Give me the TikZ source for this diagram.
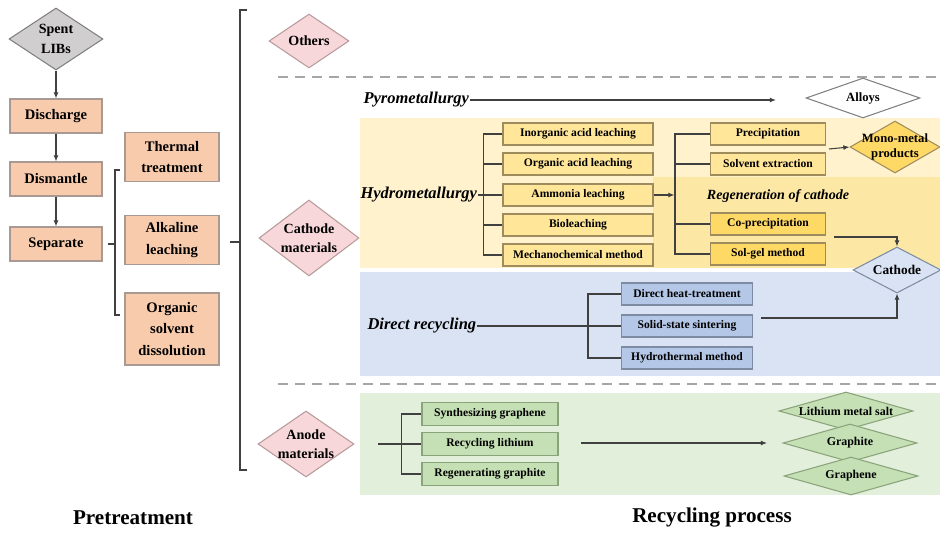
\documentclass[tikz,border=0pt]{standalone}
\usepackage{fontspec}
\setmainfont{Liberation Serif}
\usetikzlibrary{positioning, shapes.geometric, arrows.meta}

\definecolor{peach}{HTML}{F8CBAD}
\definecolor{peachline}{HTML}{A89A92}
\definecolor{libgray}{HTML}{D0CECE}
\definecolor{pink}{HTML}{F7D7DA}
\definecolor{pinkline}{HTML}{B89A9C}
\definecolor{ylight}{HTML}{FFF2CC}
\definecolor{ydark}{HTML}{FCE7A4}
\definecolor{ybox}{HTML}{FFE699}
\definecolor{ydeep}{HTML}{FFD966}
\definecolor{yline}{HTML}{9E8C5E}
\definecolor{blight}{HTML}{DAE3F3}
\definecolor{bbox}{HTML}{B4C7E7}
\definecolor{bline}{HTML}{7D8CA3}
\definecolor{glight}{HTML}{E2EFDA}
\definecolor{gbox}{HTML}{C5E0B4}
\definecolor{gline}{HTML}{8BA37A}
\definecolor{sepgray}{HTML}{A6A6A6}
\definecolor{wire}{HTML}{404040}

\tikzset{
  arr/.style={-{Latex[length=3.5pt,width=2.8pt]}},
  pbox/.style={draw=peachline, fill=peach, minimum width=1.84cm, minimum height=0.68cm, align=center, inner sep=1pt, font=\fontsize{8.3}{12.5}\selectfont\bfseries},
  sbox/.style={pbox, minimum width=1.88cm, minimum height=0.98cm},
  hbox/.style={draw=yline, fill=ybox, minimum width=3cm, minimum height=0.44cm, inner sep=1pt, font=\fontsize{6.6}{8}\selectfont\bfseries},
  rbox/.style={hbox, minimum width=2.3cm},
  dbox/.style={hbox, draw=bline, fill=bbox, minimum width=2.62cm},
  abox/.style={hbox, draw=gline, fill=gbox, minimum width=2.72cm, minimum height=0.46cm},
  dia/.style={diamond, draw=pinkline, fill=pink, inner sep=0pt},
  dlab/.style={align=center, inner sep=0pt, font=\fontsize{8}{11}\selectfont\bfseries},
  slab/.style={dlab, font=\fontsize{7.2}{8.5}\selectfont\bfseries},
  prod/.style={diamond, draw=gline, fill=gbox, inner sep=0pt, minimum width=2.68cm, minimum height=0.76cm},
  route/.style={font=\fontsize{9.4}{11}\selectfont\bfseries\itshape, inner sep=0pt},
  sep/.style={draw=sepgray, line width=1.6pt, dash pattern=on 5.7pt off 4pt},
  head/.style={font=\fontsize{12}{14}\selectfont\bfseries}
}

\begin{document}
\begin{tikzpicture}[x=0.02cm, y=-0.02cm, line width=0.6pt, draw=wire]
\useasboundingbox (0,0) rectangle (940,533);

% coloured bands
\fill[ylight] (360,118) rectangle (940,268);
\fill[ydark] (653,177) rectangle (940,268);
\fill[blight] (360,272) rectangle (940,376);
\fill[glight] (360,393) rectangle (940,495);
\draw[sep] (278,77) -- (940,77);
\draw[sep] (278,384) -- (940,384);

% pretreatment
\node[dia, draw=gray, fill=libgray, minimum width=1.88cm, minimum height=1.24cm,
  label={[dlab]center:Spent\\LIBs}] at (56,39) (spent) {};
\node[pbox] at (56,116) (discharge) {Discharge};
\node[pbox] at (56,179) (dismantle) {Dismantle};
\node[pbox] at (56,244) (separate) {Separate};
\node[sbox] at (172,157) (thermal) {Thermal\\treatment};
\node[sbox] at (172,240) (alkaline) {Alkaline\\leaching};
\node[sbox, minimum height=1.44cm] at (172,329) (organic) {Organic\\solvent\\dissolution};

\draw[arr] (spent) -- (discharge);
\draw[arr] (discharge) -- (dismantle);
\draw[arr] (dismantle) -- (separate);

\draw (120,170) -- (115,170) -- (115,315) -- (120,315);
\draw (108,244) -- (115,244);
\draw (247,10) -- (240,10) -- (240,470) -- (247,470);
\draw (230,242) -- (240,242);

% materials
\node[dia, minimum width=1.6cm, minimum height=1.08cm,
  label={[dlab]center:Others}] at (309,41) (others) {};
\node[dia, minimum width=2cm, minimum height=1.52cm,
  label={[dlab]center:Cathode\\materials}] at (309,238) (cathmat) {};
\node[dia, minimum width=1.92cm, minimum height=1.32cm,
  label={[dlab]center:Anode\\materials}] at (306,444) (anodemat) {};

% pyrometallurgy
\node[route, anchor=west] at (363,100) (pyro) {Pyrometallurgy};
\node[dia, draw=gray, fill=white, minimum width=2.28cm, minimum height=0.8cm,
  label={[slab]center:Alloys}] at (863,98) (alloys) {};
\coordinate (pyroend) at (776,100);
\draw[arr] (pyro.east) -- (pyroend);

% hydrometallurgy
\node[route, anchor=west] at (360,195) (hydro) {Hydrometallurgy};
\node[hbox] at (578,134) (inorg) {Inorganic acid leaching};
\node[hbox] at (578,164) (orgacid) {Organic acid leaching};
\node[hbox] at (578,195) (ammonia) {Ammonia leaching};
\node[hbox] at (578,225) (bio) {Bioleaching};
\node[hbox] at (578,255) (mech) {Mechanochemical method};

\draw (hydro.east) -- (ammonia.west);
\draw (inorg.west) -- ++(-19,0) |- (mech.west);
\draw (orgacid.west) -- ++(-19,0);
\draw (bio.west) -- ++(-19,0);

\node[rbox] at (768,134) (precip) {Precipitation};
\node[rbox] at (768,164) (solvent) {Solvent extraction};
\node[route, font=\fontsize{8}{10}\selectfont\bfseries\itshape] at (778,196) (regen) {Regeneration of cathode};
\node[rbox, fill=ydeep] at (768,224) (coprec) {Co-precipitation};
\node[rbox, fill=ydeep] at (768,254) (solgel) {Sol-gel method};

\draw[arr] (ammonia.east) -- ++(21,0);
\draw (precip.west) -- ++(-35,0) |- (solgel.west);
\draw (solvent.west) -- ++(-35,0);
\draw (coprec.west) -- ++(-35,0);

\node[dia, draw=yline, fill=ydeep, minimum width=1.8cm, minimum height=1.04cm,
  label={[slab]center:Mono-metal\\products}] at (895,147) (mono) {};
\node[dia, draw=bline, fill=blight, minimum width=1.76cm, minimum height=0.92cm,
  label={[slab, font=\fontsize{7.6}{8}\selectfont\bfseries]center:Cathode}] at (897,270) (cathode) {};
\coordinate (monostart) at (829,149);
\draw[arr] (monostart) -- (mono.west);
\coordinate (regstart) at (834,237);
\draw[arr] (regstart) -| (cathode.north);

% direct recycling
\node[route, anchor=west] at (367,326) (direct) {Direct recycling};
\node[dbox] at (687,294) (heat) {Direct heat-treatment};
\node[dbox] at (687,326) (solid) {Solid-state sintering};
\node[dbox] at (687,358) (hydrothermal) {Hydrothermal method};

\draw (direct.east) -- (solid.west);
\draw (heat.west) -- ++(-33,0) |- (hydrothermal.west);
\coordinate (dirstart) at (761,318);
\draw[arr] (dirstart) -| (cathode.south);

% anode
\node[abox] at (490,414) (synth) {Synthesizing graphene};
\node[abox] at (490,444) (reclith) {Recycling lithium};
\node[abox] at (490,474) (regraph) {Regenerating graphite};
\coordinate (anostart) at (378,444);
\draw (anostart) -- (reclith.west);
\draw (synth.west) -- ++(-20,0) |- (regraph.west);

\node[prod, label={[slab, font=\fontsize{6.8}{8}\selectfont\bfseries]center:Lithium metal salt}] at (846,411) (lithsalt) {};
\node[prod, label={[slab, font=\fontsize{6.8}{8}\selectfont\bfseries]center:Graphite}] at (850,443) (graphite) {};
\node[prod, label={[slab, font=\fontsize{6.8}{8}\selectfont\bfseries]center:Graphene}] at (851,476) (graphene) {};
\coordinate (anoarr1) at (581,443);
\coordinate (anoarr2) at (767,443);
\draw[arr] (anoarr1) -- (anoarr2);

% titles
\node[head] at (133,518) (pretreat) {Pretreatment};
\node[head] at (712,518) (recycle) {Recycling process};
\end{tikzpicture}
\end{document}
